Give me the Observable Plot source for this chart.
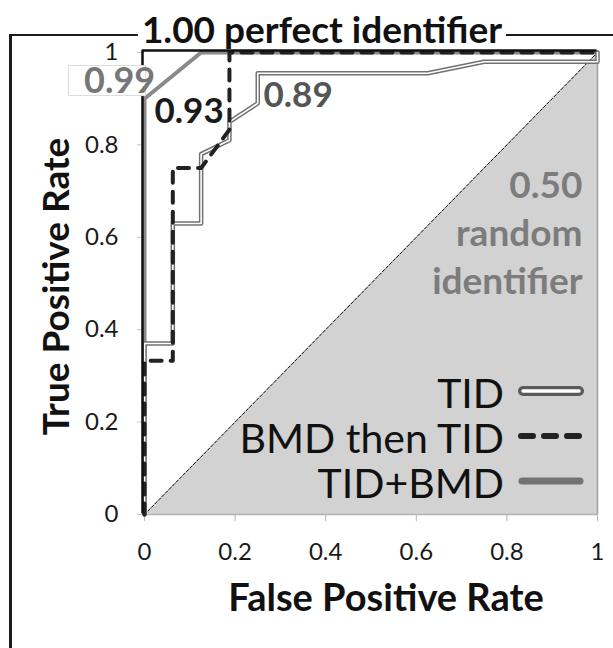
<!DOCTYPE html>
<html>
<head>
<meta charset="utf-8">
<script src="https://cdn.jsdelivr.net/npm/d3@7"></script>
<script src="https://cdn.jsdelivr.net/npm/@observablehq/plot@0.6"></script>
<style>
  html, body { margin: 0; padding: 0; background: white; }
  #wrap { position: relative; width: 613px; height: 648px; overflow: hidden; background: white; font-family: Lato, sans-serif; }
  #chart { position: absolute; left: 0; top: 0; }
  #frame { position: absolute; left: 9px; top: 34px; width: 700px; height: 700px; border-left: 3px solid #1a1a1a; border-top: 2px solid #1a1a1a; }
  #title { position: absolute; left: 322px; top: 11px; transform: translateX(-50%); background: white; font-weight: 700; font-size: 37px; line-height: 36px; padding: 0 4px; white-space: nowrap; color: #111; }
  #lab99 { position: absolute; left: 68px; top: 65px; width: 78px; height: 31px; background: white; border: 1px solid #dcdcdc; box-sizing: border-box; }
  #lab99 span { position: absolute; left: 15px; top: 0px; font-weight: 700; font-size: 36px; line-height: 26px; color: #777; white-space: nowrap; }
  #legend { position: absolute; right: 29px; top: 370px; }
  .row { display: flex; align-items: flex-start; justify-content: flex-end; height: 45px; }
  .row span { font-size: 41px; line-height: 45px; color: #111; white-space: nowrap; }
  .row svg { margin-left: 14px; }
</style>
</head>
<body>
<div id="wrap">
  <div id="chart"></div>
  <div id="frame"></div>
  <div id="title">1.00 perfect identifier</div>
  <div id="lab99"><span>0.99</span></div>
  <div id="legend"></div>
</div>
<script>
// ---- data ----
const seriesNames = ["TID", "BMD then TID", "TID+BMD"];

const fprTID = [0, 0, 0.0625, 0.0625, 0.125, 0.125, 0.1875, 0.1875, 0.25, 0.25, 0.625, 0.75, 1, 1];
const tprTID = [0, 0.37, 0.37, 0.63, 0.63, 0.78, 0.81, 0.85, 0.89, 0.955, 0.955, 0.98, 0.98, 1];

const fprBMDthenTID = [0, 0, 0.0625, 0.0625, 0.125, 0.1875, 0.1875, 1];
const tprBMDthenTID = [0, 0.333, 0.333, 0.75, 0.75, 0.833, 1, 1];

const fprTIDplusBMD = [0, 0, 0.125, 1];
const tprTIDplusBMD = [0, 0.9, 1, 1];

const fprPerfect = [0, 0, 1];
const tprPerfect = [0, 1, 1];

const fprRandom = [0, 1];
const tprRandom = [0, 1];

const xTicks = [0, 0.2, 0.4, 0.6, 0.8, 1];
const yTicks = [0, 0.2, 0.4, 0.6, 0.8, 1];
const tickLabels = ["0", "0.2", "0.4", "0.6", "0.8", "1"];

const aucLabels = {TID: "0.89", "BMD then TID": "0.93", "TID+BMD": "0.99"};
const randomLabel = "0.50\nrandom\nidentifier";

// ---- build tables ----
const pts = (xs, ys) => xs.map((x, i) => ({x, y: ys[i]}));
const tid = pts(fprTID, tprTID);
const bmd = pts(fprBMDthenTID, tprBMDthenTID);
const both = pts(fprTIDplusBMD, tprTIDplusBMD);
const perfect = pts(fprPerfect, tprPerfect);
const random = pts(fprRandom, tprRandom);
const fmt = d => tickLabels[xTicks.indexOf(d)];

const plot = Plot.plot({
  width: 613,
  height: 648,
  marginLeft: 144,
  marginRight: 16,
  marginTop: 52,
  marginBottom: 134,
  style: {fontFamily: "Lato, sans-serif", background: "transparent", overflow: "visible"},
  x: {domain: [0, 1]},
  y: {domain: [0, 1]},
  marks: [
    Plot.areaY(random, {x: "x", y: "y", fill: "#d2d2d2"}),
    Plot.line(random, {x: "x", y: "y", stroke: "#111", strokeWidth: 1, strokeDasharray: "3,2"}),
    Plot.ruleX([1], {y1: 0, y2: 1, stroke: "#a0a0a0", strokeWidth: 1.5}),
    Plot.ruleY([0], {x1: 0, x2: 1, stroke: "#b4b4b4", strokeWidth: 1.5}),
    Plot.axisX({ticks: xTicks, tickFormat: fmt, tickSize: 7, tickPadding: 21, fontSize: 24, stroke: "#b4b4b4", fill: "#1a1a1a", label: null}),
    Plot.axisY({ticks: yTicks, tickFormat: fmt, tickSize: 7, tickPadding: 19, fontSize: 24, stroke: "#c4c4c4", fill: "#1a1a1a", label: null}),
    // TID+BMD
    Plot.line(both, {x: "x", y: "y", stroke: "#8a8a8a", strokeWidth: 4}),
    // TID (double line)
    Plot.line(tid, {x: "x", y: "y", stroke: "#707070", strokeWidth: 4.5}),
    Plot.line(tid, {x: "x", y: "y", stroke: "white", strokeWidth: 1.6}),
    // BMD then TID
    Plot.line(bmd, {x: "x", y: "y", stroke: "#222", strokeWidth: 4, strokeDasharray: "11,9", strokeLinecap: "round"}),
    // perfect identifier
    Plot.line(perfect, {x: "x", y: "y", stroke: "#111", strokeWidth: 2.5, dx: -2, dy: -2}),
    // AUC annotations
    Plot.text([aucLabels["BMD then TID"]], {frameAnchor: "top-left", textAnchor: "start", lineAnchor: "top", dx: 10, dy: 46, fontSize: 35, fontWeight: 700, fill: "#1a1a1a"}),
    Plot.text([aucLabels["TID"]], {frameAnchor: "top-left", textAnchor: "start", lineAnchor: "top", dx: 119, dy: 30, fontSize: 35, fontWeight: 700, fill: "#555"}),
    Plot.text([randomLabel], {frameAnchor: "top-right", textAnchor: "end", lineAnchor: "top", dx: -15, dy: 111, lineHeight: 1.3, fontSize: 37, fontWeight: 700, fill: "#7c7c7c"}),
    // axis titles
    Plot.text(["False Positive Rate"], {frameAnchor: "bottom", textAnchor: "middle", dx: 15, dy: 96, fontSize: 38, fontWeight: 700, fill: "#111"}),
    Plot.text(["True Positive Rate"], {frameAnchor: "left", textAnchor: "middle", rotate: -90, dx: -87, dy: 3, fontSize: 37, fontWeight: 700, fill: "#111"})
  ]
});
document.getElementById("chart").appendChild(plot);
document.querySelector("#lab99 span").textContent = aucLabels["TID+BMD"];

// legend
const swatches = {
  "TID": `<line x1="5" y1="21" x2="61" y2="21" stroke="#5a5a5a" stroke-width="10" stroke-linecap="round"/><line x1="5" y1="21" x2="61" y2="21" stroke="white" stroke-width="3.5" stroke-linecap="round"/>`,
  "BMD then TID": `<line x1="3" y1="21" x2="64" y2="21" stroke="#222" stroke-width="6" stroke-dasharray="12,11" stroke-linecap="round"/>`,
  "TID+BMD": `<line x1="4" y1="21" x2="62" y2="21" stroke="#737373" stroke-width="7" stroke-linecap="round"/>`
};
const legend = document.getElementById("legend");
for (const name of seriesNames) {
  const row = document.createElement("div");
  row.className = "row";
  row.innerHTML = `<span>${name}</span><svg width="66" height="45">${swatches[name]}</svg>`;
  legend.appendChild(row);
}
</script>
</body>
</html>
